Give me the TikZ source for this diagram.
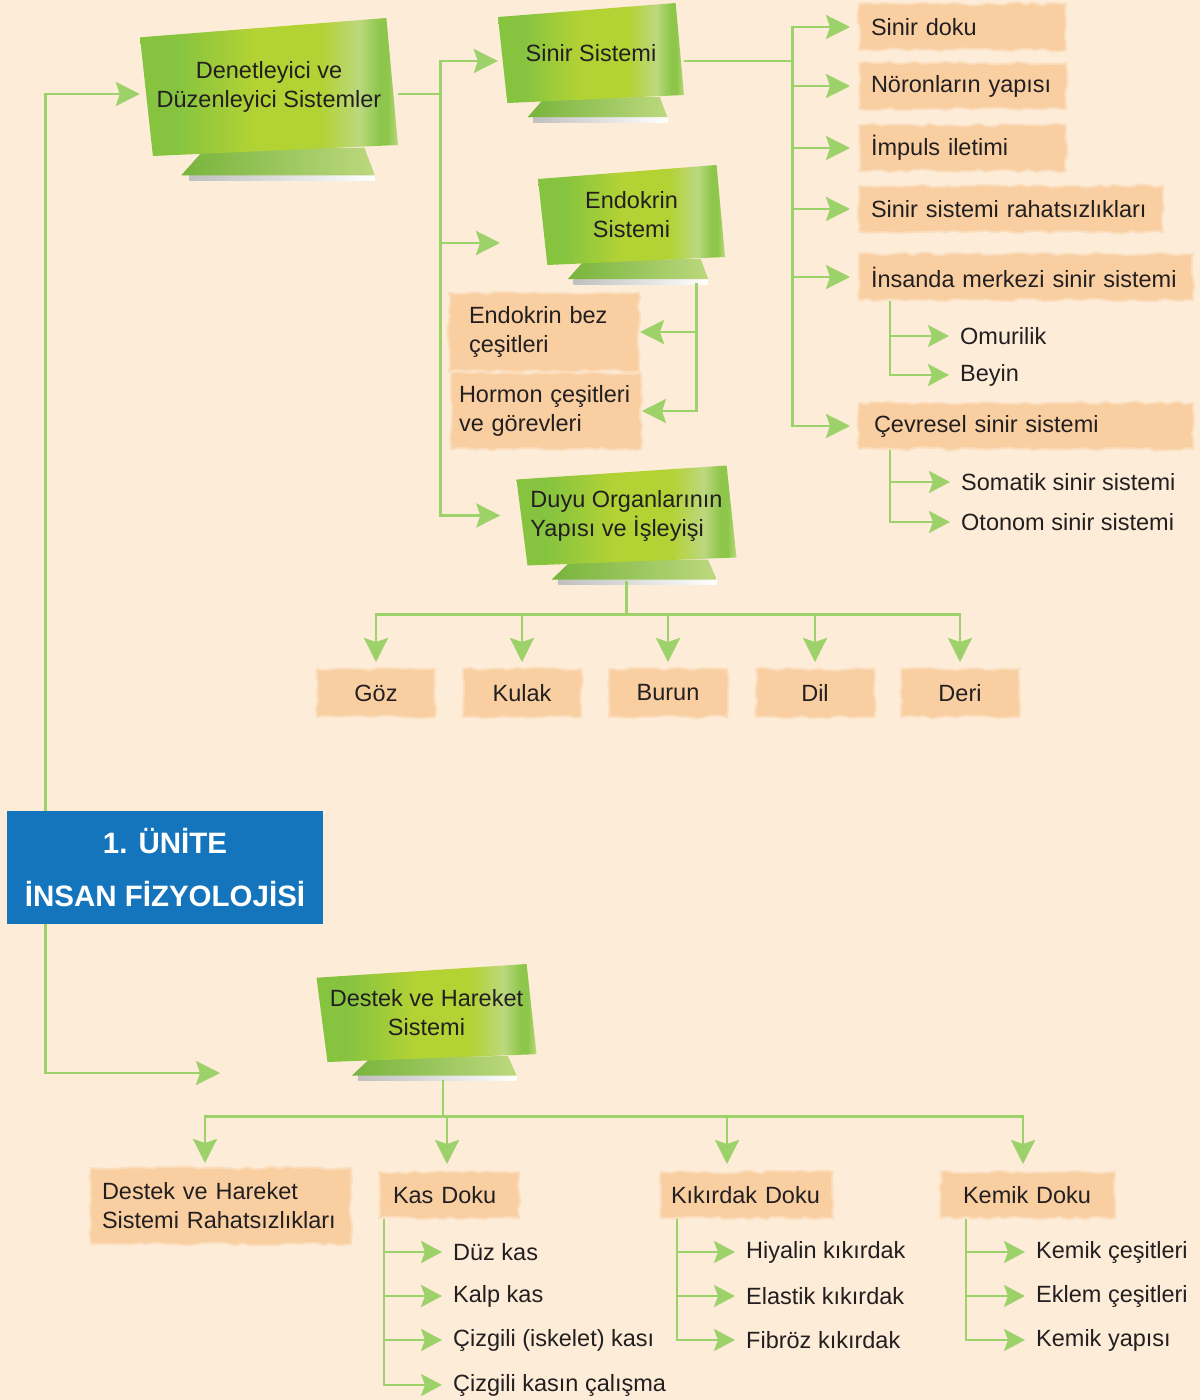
\documentclass[tikz,border=0pt]{standalone}
\usepackage{fontspec}
\setmainfont{Liberation Sans}
\usetikzlibrary{arrows.meta,decorations.pathmorphing}

\definecolor{bgpeach}{HTML}{FDECD8}
\definecolor{linkgreen}{HTML}{9DD16A}
\definecolor{labeltext}{HTML}{231F20}
\definecolor{unitblue}{HTML}{1475BD}
\definecolor{brushorange}{HTML}{F9CFA2}
\definecolor{brushedge}{HTML}{FBDDBC}
\definecolor{ribgreenA}{HTML}{86C440}
\definecolor{ribgreenB}{HTML}{B3D234}
\definecolor{ribgreenC}{HTML}{BCD87E}
\definecolor{ribgreenD}{HTML}{8DC64A}
\definecolor{flapdark}{HTML}{78B43C}

\pgfdeclarehorizontalshading{ribbonshade}{100bp}{color(0bp)=(ribgreenA); color(25bp)=(ribgreenA); color(32bp)=(ribgreenA); color(47bp)=(ribgreenB); color(60bp)=(ribgreenB); color(67.5bp)=(ribgreenC); color(71.5bp)=(ribgreenD); color(73bp)=(ribgreenD); color(75bp)=(ribgreenC); color(100bp)=(ribgreenC)}

\tikzset{
  link/.style={draw=linkgreen, line width=2.8pt},
  flow/.style={link, -{Stealth[length=24pt,width=24pt,inset=4pt]}},
  subflow/.style={link, shorten >=11pt, -{Stealth[length=21pt,width=22pt,inset=4pt]}},
  ribbontext/.style={font=\fontsize{23.5}{29}\selectfont, text=labeltext, inner sep=0pt},
  brush/.style={fill=brushorange, draw=brushedge, line width=2pt, decorate,
    decoration={random steps,segment length=8pt,amplitude=1.6pt},
    font=\fontsize{23.5}{29}\selectfont, text=labeltext, align=left,
    inner xsep=12pt, inner ysep=0pt, minimum height=46pt},
  item/.style={font=\fontsize{23.5}{29}\selectfont, text=labeltext, inner sep=0pt, anchor=west},
  unitbox/.style={fill=unitblue, text=white, font=\bfseries\fontsize{29.5}{50}\selectfont,
    align=center, minimum width=316pt, minimum height=113pt, inner sep=0pt},
}

% green folded ribbon: [align] name, x, y, half width, half height, text
\newcommand{\ribbon}[7][center]{%
  \begin{scope}[shift={(#3,#4)}]
    \pgfmathsetmacro{\ribA}{#5}
    \pgfmathsetmacro{\ribB}{#6}
    % shadow under the flap
    \shade[left color=black!25, right color=white] ({-0.62*\ribA},{1.28*\ribB}) rectangle ({0.82*\ribA},{1.28*\ribB+5});
    % lower flap
    \shade[left color=flapdark, right color=ribgreenC] ({-0.68*\ribA},{1.28*\ribB}) -- ({0.82*\ribA},{1.28*\ribB}) -- ({0.74*\ribA},{0.88*\ribB}) -- ({-0.5*\ribA},{0.9*\ribB}) -- cycle;
    % main sheet
    \shade[shading=ribbonshade] ({-\ribA},{-0.72*\ribB}) -- ({0.91*\ribA},{-\ribB}) -- (\ribA,{0.84*\ribB}) -- ({-0.9*\ribA},\ribB) -- cycle;
  \end{scope}
  \node[ribbontext, align=#1, minimum width=2*#5, minimum height=2*#6] (#2) at (#3,#4) {#7};
}

\begin{document}
\begin{tikzpicture}[x=1pt, y=-1pt]
    % === BACKGROUND ===
    \useasboundingbox (0,0) rectangle (1200,1400);
    \clip (0,0) rectangle (1200,1400);
    \fill[bgpeach] (0,0) rectangle (1200,1400);
    \pgfmathsetseed{7}

    % === RIBBON BOXES ===
    \ribbon{den}{269}{87}{129}{69}{Denetleyici ve\\Düzenleyici Sistemler}
    \ribbon{sinir}{591}{53}{93}{50}{Sinir Sistemi}
    \ribbon{endo}{631.5}{215}{93.5}{50}{Endokrin\\Sistemi}
    \ribbon[left]{duyu}{626.5}{515.5}{110}{50}{Duyu Organlarının\\Yapısı ve İşleyişi}
    \ribbon{destek}{426.5}{1013}{110}{49}{Destek ve Hareket\\Sistemi}

    % === UNIT TITLE ===
    \node[unitbox] (unit) at (165,867.5) {\raisebox{3pt}{1. ÜNİTE}\\İNSAN FİZYOLOJİSİ};

    % === NERVOUS SYSTEM TOPICS ===
    \node[brush, anchor=west, text width=183pt] (doku) at (858,27) {Sinir doku};
    \node[brush, anchor=west, text width=183pt] (noron) at (858,86) {Nöronların yapısı};
    \node[brush, anchor=west, text width=183pt] (impuls) at (858,148) {İmpuls iletimi};
    \node[brush, anchor=west, text width=280pt] (rahats) at (858,209) {Sinir sistemi rahatsızlıkları};
    \node[brush, anchor=west, text width=310pt] (merkez) at (858,277) {İnsanda merkezi sinir sistemi};
    \node[brush, anchor=west, text width=304pt, inner xsep=15pt] (cevre) at (858,426) {Çevresel sinir sistemi};
    \node[item] (omur) at (960,336) {Omurilik};
    \node[item] (beyin) at (960,375) {Beyin};
    \node[item] (somatik) at (961,482) {Somatik sinir sistemi};
    \node[item] (otonom) at (961,522) {Otonom sinir sistemi};

    % === ENDOCRINE TOPICS ===
    \node[brush, anchor=west, text width=150pt, inner xsep=20pt, minimum height=78pt] (endobez) at (448,332) {Endokrin bez\\çeşitleri};
    \node[brush, anchor=west, text width=174pt, inner xsep=8pt, minimum height=76pt] (hormon) at (450,411) {Hormon çeşitleri\\ve görevleri};

    % === SENSE ORGANS ===
    \node[brush, align=center, minimum width=118pt, minimum height=48pt] (goz) at (376,693) {Göz};
    \node[brush, align=center, minimum width=118pt, minimum height=48pt] (kulak) at (522,693) {Kulak};
    \node[brush, align=center, minimum width=118pt, minimum height=48pt] (burun) at (668,693) {Burun};
    \node[brush, align=center, minimum width=118pt, minimum height=48pt] (dil) at (815,693) {Dil};
    \node[brush, align=center, minimum width=118pt, minimum height=48pt] (deri) at (960,693) {Deri};

    % === SUPPORT AND MOVEMENT ===
    \node[brush, anchor=west, text width=238pt, inner xsep=11pt, minimum height=76pt] (rahatdh) at (90,1206) {Destek ve Hareket\\Sistemi Rahatsızlıkları};
    \node[brush, anchor=west, text width=112pt, inner xsep=14pt] (kas) at (378,1195) {Kas Doku};
    \node[brush, anchor=west, text width=152pt, inner xsep=10pt] (kikirdak) at (660,1195) {Kıkırdak Doku};
    \node[brush, anchor=west, text width=130pt, inner xsep=22pt] (kemik) at (940,1195) {Kemik Doku};
    \node[item] (duz) at (453,1252) {Düz kas};
    \node[item] (kalp) at (453,1296) {Kalp kas};
    \node[item] (iskelet) at (453,1340) {Çizgili (iskelet) kası};
    \node[item] (calisma) at (453,1385) {Çizgili kasın çalışma};
    \node[item] (hiyalin) at (746,1252) {Hiyalin kıkırdak};
    \node[item] (elastik) at (746,1296) {Elastik kıkırdak};
    \node[item] (fibroz) at (746,1340) {Fibröz kıkırdak};
    \node[item] (kcesit) at (1036,1252) {Kemik çeşitleri};
    \node[item] (eklem) at (1036,1296) {Eklem çeşitleri};
    \node[item] (kyapi) at (1036,1340) {Kemik yapısı};

    % === BUS POINTS ===
    \coordinate (spinetop) at ([xshift=39pt]unit.north west);
    \coordinate (spinelow) at ([xshift=39pt]unit.south west);
    \coordinate (destekin) at (220,1073);
    \coordinate (endoin) at (500,243);
    \coordinate (denbus) at ([xshift=42pt,yshift=-7pt]den.east);
    \coordinate (sinirbus) at ([xshift=108pt,yshift=-8pt]sinir.east);
    \coordinate (endobar) at ([xshift=65pt,yshift=-18pt]endo.south);
    \coordinate (duyutop) at ([yshift=-15pt]duyu.south);
    \coordinate (duyubus) at ([yshift=-49pt]duyu.south);
    \coordinate (destektop) at ([xshift=16.5pt,yshift=-18pt]destek.south);
    \coordinate (destekbus) at ([xshift=16.5pt,yshift=-54pt]destek.south);
    \coordinate (merkezbar) at ([xshift=32pt]merkez.south west);
    \coordinate (cevrebar) at ([xshift=32pt]cevre.south west);
    \coordinate (kasbar) at ([xshift=6pt]kas.south west);
    \coordinate (kikirdakbar) at ([xshift=17pt]kikirdak.south west);
    \coordinate (kemikbar) at ([xshift=26pt]kemik.south west);

    % === CONNECTORS ===
    % main spine
    \draw[flow] (spinetop) |- ([yshift=-7pt]den.west);
    \draw[flow] (spinelow) |- (destekin);

    % control systems branch
    \draw[link] ([yshift=-7pt]den.east) -- (denbus);
    \draw[flow] (denbus) |- ([yshift=-8pt]sinir.west);
    \draw[flow] (denbus) |- (endoin);
    \draw[flow, shorten >=16pt] (denbus) |- (duyu.west);

    % nervous system
    \draw[link] ([yshift=-8pt]sinir.east) -- (sinirbus);
    \foreach \topic in {doku,noron,impuls,rahats,merkez,cevre}
        \draw[flow, shorten >=8pt] (sinirbus) |- (\topic.west);
    \draw[subflow] (merkezbar) |- (beyin.west);
    \draw[subflow] (merkezbar |- omur.west) -- (omur.west);
    \draw[subflow] (cevrebar) |- (otonom.west);
    \draw[subflow] (cevrebar |- somatik.west) -- (somatik.west);

    % endocrine system
    \draw[flow] (endobar) |- (hormon.east);
    \draw[flow] (endobar |- endobez.east) -- (endobez.east);

    % sense organs
    \draw[link] (duyutop) -- (duyubus);
    \foreach \organ in {goz,kulak,burun,dil,deri}
        \draw[flow, shorten >=6pt] (duyubus) -| (\organ.north);

    % support and movement
    \draw[link] (destektop) -- (destekbus);
    \draw[flow, shorten >=4pt] (destekbus) -| ([xshift=-16pt]rahatdh.north);
    \draw[flow, shorten >=7pt] (destekbus) -| ([xshift=-2pt]kas.north);
    \draw[flow, shorten >=7pt] (destekbus) -| ([xshift=-20pt]kikirdak.north);
    \draw[flow, shorten >=7pt] (destekbus) -| ([xshift=-5pt]kemik.north);
    \draw[subflow] (kasbar) |- (calisma.west);
    \foreach \tissue in {duz,kalp,iskelet}
        \draw[subflow] (kasbar |- \tissue.west) -- (\tissue.west);
    \draw[subflow] (kikirdakbar) |- (fibroz.west);
    \foreach \tissue in {hiyalin,elastik}
        \draw[subflow] (kikirdakbar |- \tissue.west) -- (\tissue.west);
    \draw[subflow] (kemikbar) |- (kyapi.west);
    \foreach \tissue in {kcesit,eklem}
        \draw[subflow] (kemikbar |- \tissue.west) -- (\tissue.west);
\end{tikzpicture}
\end{document}
